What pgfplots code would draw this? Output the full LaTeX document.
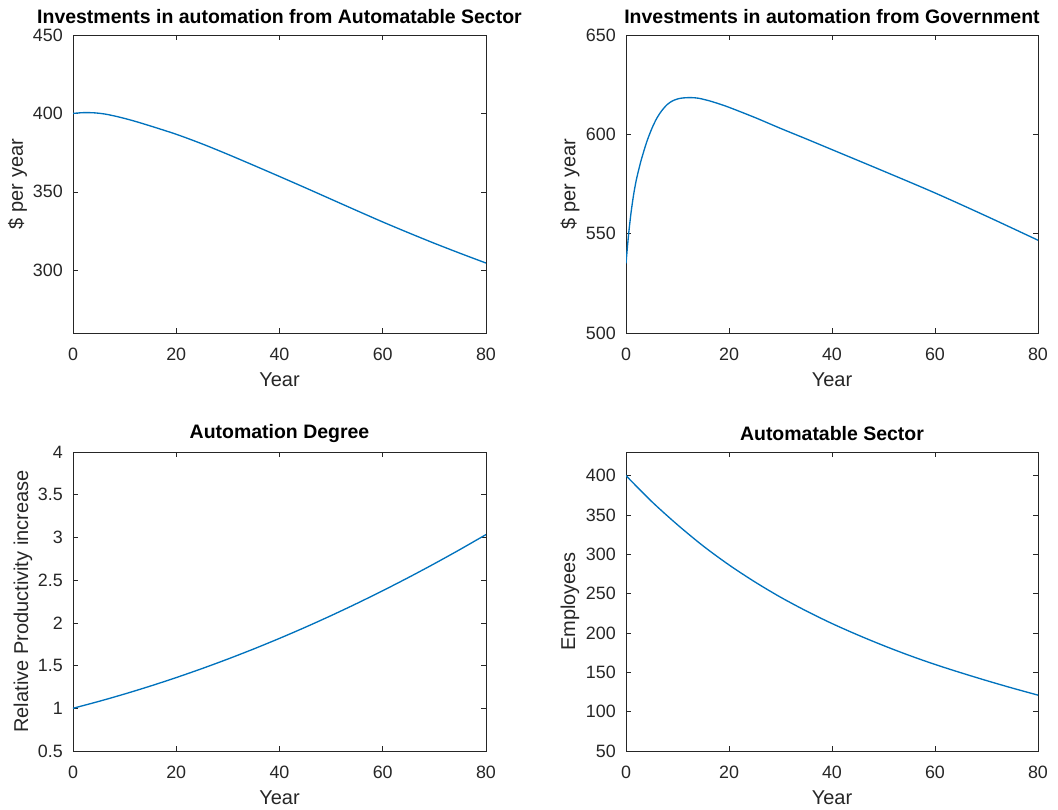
\documentclass[border=0pt]{standalone}
\usepackage{fontspec}
\setmainfont{Liberation Sans}
\usepackage{pgfplots}
\pgfplotsset{compat=1.18}
\definecolor{mblue}{rgb}{0,0.447,0.741}
\definecolor{mgray}{rgb}{0.15,0.15,0.15}
\pgfplotsset{
 mstyle/.style={
  scale only axis,
  xmin=0,xmax=80, xtick={0,20,40,60,80},
  axis line style={mgray, line width=0.6pt},
  tick style={mgray, line width=0.5pt},
  major tick length=3.75pt,
  tick align=inside,
  xtick pos=both, ytick pos=both,
  tick label style={font=\fontsize{13.4}{15}\selectfont, text=mgray, inner sep=0pt},
  /pgf/number format/assume math mode=true,
  xticklabel style={anchor=center, yshift=-15.75pt},
  yticklabel style={anchor=east, xshift=-7.5pt},
  every axis x label/.style={at={(axis description cs:0.5,0)}, yshift=-35.25pt, anchor=center, font=\fontsize{15}{17}\selectfont, text=mgray},
  every axis title/.style={font=\bfseries\fontsize{14.6}{16}\selectfont, at={(axis description cs:0.5,1)}, anchor=center, yshift=13.8pt, inner sep=0pt},
 },
 mplot/.style={mblue, line width=1pt, no markers, smooth},
 ylab/.style={every axis y label/.style={at={(axis description cs:0,0.5)}, xshift=-#1, rotate=90, anchor=center, font=\fontsize{15}{17}\selectfont, text=mgray}},
}
\begin{document}
\begin{tikzpicture}
\path[use as bounding box] (0,0) rectangle (793.5pt,-607.5pt);
% top left
\begin{axis}[mstyle, ylab=41.6pt, at={(54.75pt,-26.25pt)}, anchor=north west,
  width=309.75pt, height=223.5pt,
  ymin=260, ymax=450, ytick={300,350,400,450},
  title={Investments in automation from Automatable Sector},
  xlabel={Year}, ylabel={\$ per year}]
\addplot[mplot] coordinates {(0,400) (2,400.5) (4,400.4) (6,399.7) (8,398.4) (10,396.8) (12,395.0) (15,392.0) (20,386.7) (25,380.6) (30,373.9) (35,366.9) (40,359.8) (45,352.6) (50,345.3) (55,338.0) (60,330.8) (65,323.9) (70,317.2) (75,310.8) (80,304.6)};
\end{axis}
% top right
\begin{axis}[mstyle, ylab=42pt, at={(469.5pt,-26.25pt)}, anchor=north west,
  width=309pt, height=223.5pt,
  ymin=500, ymax=650, ytick={500,550,600,650},
  title={Investments in automation from Government},
  xlabel={Year}, ylabel={\$ per year}]
\addplot[mplot] coordinates {(0,535) (0.3,544) (0.6,552) (1,561) (1.5,570) (2,577) (2.5,582.5) (3,587.5) (4,596) (5,602.8) (6,608.2) (7,612.1) (8,615) (9,616.8) (10,617.8) (11,618.3) (12.5,618.5) (14,618.2) (16,617) (18,615.4) (20,613.6) (25,608.5) (30,603) (35,597.7) (40,592.3) (50,581.5) (60,570.5) (70,558.8) (80,546.7)};
\end{axis}
% bottom left
\begin{axis}[mstyle, ylab=37.5pt, at={(54.75pt,-339pt)}, anchor=north west,
  width=309.75pt, height=224.25pt,
  ymin=0.5, ymax=4, ytick={0.5,1,1.5,2,2.5,3,3.5,4},
  title={Automation Degree},
  xlabel={Year}, ylabel={Relative Productivity increase}]
\addplot[mplot] coordinates {(0,1.0) (5,1.0806) (10,1.1674) (15,1.2604) (20,1.3596) (25,1.465) (30,1.5766) (35,1.6944) (40,1.8184) (45,1.9486) (50,2.085) (55,2.2276) (60,2.3764) (65,2.5314) (70,2.6926) (75,2.86) (80,3.0336)};
\end{axis}
% bottom right
\begin{axis}[mstyle, ylab=42pt, at={(469.5pt,-339pt)}, anchor=north west,
  width=309pt, height=224.25pt,
  ymin=50, ymax=430, ytick={50,100,150,200,250,300,350,400},
  title={Automatable Sector},
  xlabel={Year}, ylabel={Employees}]
\addplot[mplot] coordinates {(0,400) (5,367) (10,337.5) (15,310.5) (20,286.5) (25,265) (30,245.5) (35,228) (40,212) (45,197.5) (50,184) (55,171.5) (60,160) (65,149.5) (70,139.5) (75,130) (80,121)};
\end{axis}
\end{tikzpicture}
\end{document}
